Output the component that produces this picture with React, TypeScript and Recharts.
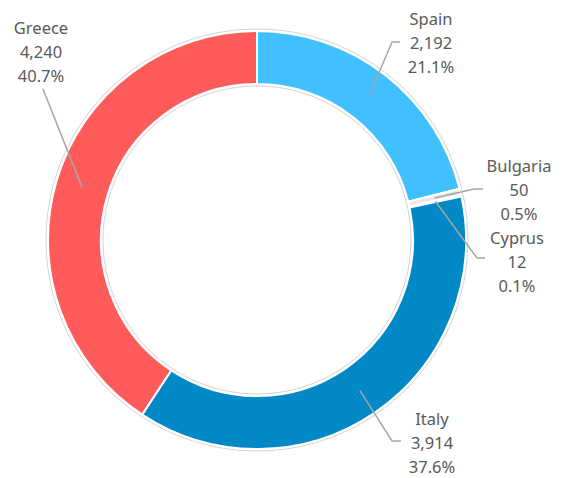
import { PieChart, Pie, Cell } from 'recharts';

const countries = ['Spain', 'Bulgaria', 'Cyprus', 'Italy', 'Greece'];
const counts = [2192, 50, 12, 3914, 4240];
const sliceColors = ['#40C0FF', '#E8E8E8', '#F4F4F4', '#0089C6', '#FF5B5B'];

const data = countries.map((name, i) => ({ name, value: counts[i] }));
const ringData = [{ name: 'ring', value: 1 }];

// label text block centre + elbow of the leader line, per country
const labelLayout: Record<string, { x: number; y: number; elbow?: [number, number, number] }> = {
  Spain: { x: 431, y: 18, elbow: [392, 400, 42] },
  Bulgaria: { x: 519, y: 165, elbow: [474, 483, 189] },
  Cyprus: { x: 517, y: 237, elbow: [477, 485, 258] },
  Italy: { x: 432, y: 418, elbow: [392, 401, 441] },
  Greece: { x: 41, y: 27 },
};

const RAD = Math.PI / 180;
const LINE_H = 24;

function renderLabel(props: any) {
  const { cx, cy, midAngle, innerRadius, outerRadius, percent, name, value } = props;
  const lay = labelLayout[name];
  if (!lay) return null;
  const r = (innerRadius + outerRadius) / 2;
  const sx = cx + r * Math.cos(-midAngle * RAD);
  const sy = cy + r * Math.sin(-midAngle * RAD);
  let path: string;
  if (lay.elbow) {
    const [ex, ex2, ey] = lay.elbow;
    path = `M${sx},${sy}L${ex},${ey}L${ex2},${ey}`;
  } else {
    path = `M${sx},${sy}L${lay.x + 2},${lay.y + LINE_H * 2 + 14}`;
  }
  const lines = [name, Number(value).toLocaleString('en-US'), `${(percent * 100).toFixed(1)}%`];
  return (
    <g>
      <path d={path} stroke="#A6A6A6" strokeWidth={1.5} fill="none" />
      {lines.map((t, i) => (
        <text
          key={i}
          x={lay.x}
          y={lay.y + i * LINE_H}
          textAnchor="middle"
          dominantBaseline="central"
          fill="#595959"
          fontSize={16.5}
          fontFamily="'Noto Sans', 'Open Sans', sans-serif"
        >
          {t}
        </text>
      ))}
    </g>
  );
}

export default function App() {
  return (
    <div style={{ width: 565, height: 478, background: '#fff' }}>
      <style>{'body{margin:0}'}</style>
      <PieChart width={565} height={478} margin={{ top: 0, right: 0, bottom: 0, left: 0 }}>
        <Pie
          data={ringData}
          dataKey="value"
          cx={257}
          cy={240}
          innerRadius={154}
          outerRadius={211}
          startAngle={90}
          endAngle={-270}
          fill="none"
          stroke="#D4D4D4"
          strokeWidth={1}
          isAnimationActive={false}
        />
        <Pie
          data={data}
          dataKey="value"
          nameKey="name"
          cx={257}
          cy={240}
          innerRadius={156}
          outerRadius={209}
          startAngle={90}
          endAngle={-270}
          stroke="#fff"
          strokeWidth={2}
          label={renderLabel}
          labelLine={false}
          isAnimationActive={false}
        >
          {data.map((d, i) => (
            <Cell key={d.name} fill={sliceColors[i]} />
          ))}
        </Pie>
      </PieChart>
    </div>
  );
}
